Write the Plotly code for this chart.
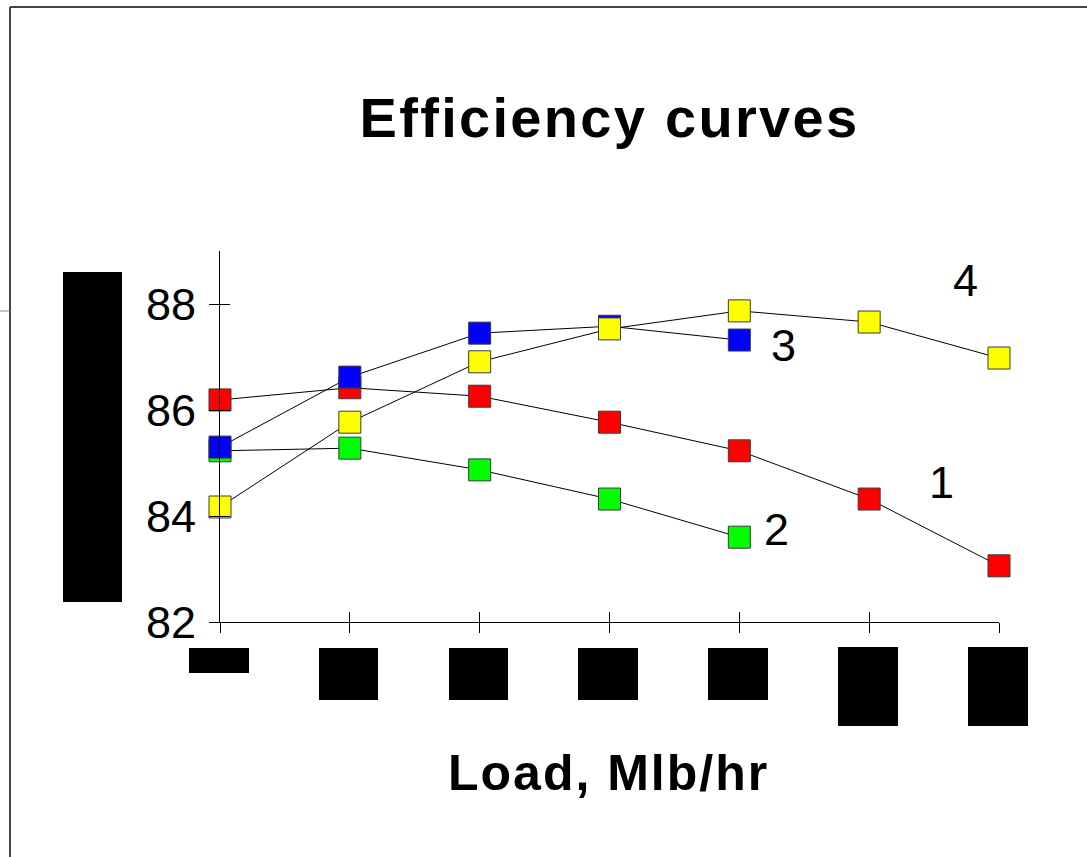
import plotly.graph_objects as go

# ---- data ----
load_idx = [0, 1, 2, 3, 4, 5, 6]
series_names = ["1", "2", "3", "4"]
eff_1 = [86.19, 86.42, 86.26, 85.77, 85.23, 84.32, 83.06]
eff_2 = [85.23, 85.28, 84.87, 84.32, 83.60]
eff_3 = [85.30, 86.62, 87.45, 87.58, 87.32]
eff_4 = [84.17, 85.77, 86.91, 87.53, 87.87, 87.66, 86.98]
y_ticks = [82, 84, 86, 88]
colors = ["#FF0000", "#00FF00", "#0000FF", "#FFFF00"]

W, H = 1087, 857
L, R, T, B = 220, 999, 251, 622  # plot area in pixels


def px(xp, yp):
    return (xp - L) / (R - L), (B - yp) / (B - T)


fig = go.Figure()
for vals, col, name in zip([eff_1, eff_2, eff_3, eff_4], colors, series_names):
    fig.add_trace(go.Scatter(
        x=load_idx[:len(vals)], y=vals, mode="lines+markers", name=name,
        line=dict(color="#000000", width=1),
        marker=dict(symbol="square", size=22, color=col,
                    line=dict(color="#3a3a3a", width=1)),
        cliponaxis=False, showlegend=False, hoverinfo="x+y"))

# invisible trace so the inside-tick overlay axes are drawn
fig.add_trace(go.Scatter(x=[load_idx[0]], y=[y_ticks[0]], xaxis="x2", yaxis="y2",
                         mode="markers", marker=dict(opacity=0),
                         showlegend=False, hoverinfo="skip"))

axis_font = dict(family="Liberation Sans, Arial, sans-serif", size=45, color="#000")

fig.update_layout(
    width=W, height=H,
    margin=dict(l=L, r=W - R, t=T, b=H - B, pad=0),
    paper_bgcolor="white", plot_bgcolor="white",
    font=axis_font,
    title=dict(text='<span style="letter-spacing:2.3px">Efficiency curves</span>',
               x=0.5, xref="paper", xanchor="center",
               y=1 - 117 / H, yref="container", yanchor="middle",
               font=dict(family="Liberation Sans, Arial, sans-serif", size=56,
                         color="#000", weight="bold")),
    xaxis=dict(range=[0, 6], tickvals=load_idx, ticks="outside", ticklen=10,
               tickcolor="#000", tickwidth=1, showticklabels=False,
               showline=True, linecolor="#000", linewidth=1,
               showgrid=False, zeroline=False),
    xaxis2=dict(range=[0, 6], tickvals=load_idx, ticks="inside", ticklen=10,
                tickcolor="#000", tickwidth=1, showticklabels=False,
                overlaying="x", side="bottom", showline=False,
                showgrid=False, zeroline=False),
    yaxis=dict(range=[82, 89], tickvals=y_ticks, ticks="outside", ticklen=10,
               tickcolor="#000", tickwidth=1, ticklabelstandoff=4,
               showline=True, linecolor="#000", linewidth=1,
               showgrid=False, zeroline=False, tickfont=axis_font),
    yaxis2=dict(range=[82, 89], tickvals=y_ticks, ticks="inside", ticklen=10,
                tickcolor="#000", tickwidth=1, showticklabels=False,
                overlaying="y", side="left", showline=False,
                showgrid=False, zeroline=False),
)

# series labels
label_pos = {"1": (5.56, 84.64), "2": (4.29, 83.74), "3": (4.34, 87.21), "4": (5.74, 88.45)}
for name in series_names:
    lx, ly = label_pos[name]
    fig.add_annotation(x=lx, y=ly, text=name, showarrow=False,
                       font=axis_font, xanchor="center", yanchor="middle")

# x axis title
tx, ty = px(608, 773)
fig.add_annotation(x=tx, y=ty, xref="paper", yref="paper",
                   text='<span style="letter-spacing:2px">Load, Mlb/hr</span>',
                   showarrow=False, xanchor="center", yanchor="middle",
                   font=dict(family="Liberation Sans, Arial, sans-serif", size=50,
                             color="#000", weight="bold"))

shapes = []
# redaction boxes (pixel rectangles)
boxes = [(63, 272, 122, 602), (189, 648, 249, 673), (319, 648, 378, 700),
         (449, 648, 508, 700), (578, 648, 638, 700), (708, 648, 768, 700),
         (838, 647, 898, 726), (968, 647, 1028, 726)]
for x0p, y0p, x1p, y1p in boxes:
    x0, y0 = px(x0p, y0p)
    x1, y1 = px(x1p, y1p)
    shapes.append(dict(type="rect", xref="paper", yref="paper", x0=x0, y0=y1,
                       x1=x1, y1=y0, fillcolor="#000", line=dict(width=0), layer="above"))
# frame
fx0, fy0 = px(10, 7)
fx1, fy1 = px(W + 5, H + 5)
shapes.append(dict(type="line", xref="paper", yref="paper", x0=fx0, y0=fy0, x1=fx1, y1=fy0,
                   line=dict(color="#444", width=2)))
shapes.append(dict(type="line", xref="paper", yref="paper", x0=fx0, y0=fy0, x1=fx0, y1=fy1,
                   line=dict(color="#444", width=2)))
sx0, sy0 = px(0, 311)
sx1, _ = px(10, 311)
shapes.append(dict(type="line", xref="paper", yref="paper", x0=sx0, y0=sy0, x1=sx1, y1=sy0,
                   line=dict(color="#888", width=1)))
fig.update_layout(shapes=shapes)

fig.write_html("out.html", config={"displayModeBar": False},
               post_script="document.body.style.margin='0';document.body.style.overflow='hidden';")
